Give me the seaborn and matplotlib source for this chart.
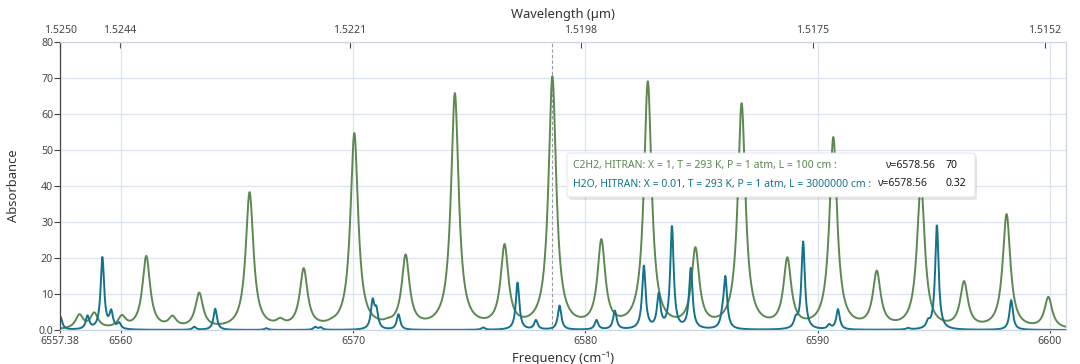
import numpy as np
import pandas as pd
import matplotlib
matplotlib.use("Agg")
import matplotlib.pyplot as plt
from matplotlib.patches import FancyBboxPatch
import seaborn as sns

# line lists: centre (cm-1) and peak absorbance
c2h2_centers = [6558.21, 6558.85, 6560.04, 6561.09, 6562.22, 6563.37, 6565.54, 6566.86,
                6567.87, 6569.09, 6570.05, 6571.50, 6572.26, 6573.62, 6574.38, 6576.52,
                6578.58, 6580.69, 6582.00, 6582.69, 6584.74, 6586.73, 6588.70, 6590.68,
                6592.55, 6594.45, 6596.31, 6598.14, 6599.94]
c2h2_peaks = [4.4, 4.9, 4.2, 20.6, 4.0, 10.4, 38.3, 3.4,
              17.2, 3.4, 54.7, 3.4, 21.0, 5.3, 65.8, 23.9,
              70.5, 25.2, 4.0, 68.9, 23.0, 63.0, 20.2, 53.6,
              16.5, 41.0, 13.6, 32.2, 9.2]

h2o_centers = [6557.40, 6558.56, 6558.99, 6559.20, 6559.58, 6559.92, 6563.16, 6564.06,
               6566.26, 6568.37, 6568.60, 6570.84, 6571.00, 6571.95, 6575.60, 6577.08,
               6577.87, 6578.89, 6580.48, 6581.27, 6582.52, 6583.16, 6583.73, 6584.54,
               6585.90, 6586.03, 6589.06, 6589.38, 6590.50, 6590.88, 6593.90, 6594.76,
               6595.14, 6598.34]
h2o_peaks = [3.6, 4.0, 1.5, 20.0, 5.7, 2.2, 0.9, 5.9,
             0.5, 0.9, 0.8, 8.8, 6.7, 4.4, 0.7, 13.2,
             2.8, 6.8, 2.8, 5.4, 17.9, 10.4, 28.9, 17.3,
             7.0, 15.0, 4.2, 24.6, 1.7, 5.8, 0.6, 3.2,
             29.1, 8.3]

c2h2_hwhm = 0.20
h2o_hwhm = 0.09

freq_ticks = [6557.38, 6560, 6570, 6580, 6590, 6600]
freq_labels = ["6557.38", "6560", "6570", "6580", "6590", "6600"]
wl_ticks = [1.5250, 1.5244, 1.5221, 1.5198, 1.5175, 1.5152]
y_ticks = [0, 10, 20, 30, 40, 50, 60, 70, 80]
y_labels = ["0.0", "10", "20", "30", "40", "50", "60", "70", "80"]

cursor_nu = 6578.56
tip_c2h2 = "C2H2, HITRAN: X = 1, T = 293 K, P = 1 atm, L = 100 cm :"
tip_h2o = "H2O, HITRAN: X = 0.01, T = 293 K, P = 1 atm, L = 3000000 cm :"
tip_vals = ["70", "0.32"]

GREEN = "#5c8851"
TEAL = "#13728c"


def spectrum(nu, centers, peaks, hwhm):
    c = np.array(centers)
    p = np.array(peaks)
    # lorentz amplitudes chosen so that the summed curve hits the read peak heights
    m = hwhm**2 / ((c[:, None] - c[None, :])**2 + hwhm**2)
    amp = np.clip(np.linalg.solve(m, p), 0, None)
    prof = hwhm**2 / ((nu[:, None] - c[None, :])**2 + hwhm**2)
    return prof @ amp


x_lo, x_hi = 6557.375, 6600.7
nu = np.linspace(x_lo, x_hi, 5000)
df = pd.DataFrame({
    "nu": nu,
    "c2h2": spectrum(nu, c2h2_centers, c2h2_peaks, c2h2_hwhm),
    "h2o": spectrum(nu, h2o_centers, h2o_peaks, h2o_hwhm),
})

sns.set_theme(style="white")
plt.rcParams['font.family'] = ['Noto Sans', 'DejaVu Sans']

W, H = 1080, 364
fig = plt.figure(figsize=(W / 100, H / 100), dpi=100)
ax = fig.add_axes([60 / W, 1 - 330 / H, (1066 - 60) / W, (330 - 42) / H])

sns.lineplot(data=df, x="nu", y="c2h2", ax=ax, color=GREEN, linewidth=1.4)
sns.lineplot(data=df, x="nu", y="h2o", ax=ax, color=TEAL, linewidth=1.4)

ax.set_xlim(x_lo, x_hi)
ax.set_ylim(0, 80)

ax.set_yticks(y_ticks)
ax.set_yticklabels(y_labels)
ax.set_xticks(freq_ticks)
ax.set_xticklabels(freq_labels)
ax.grid(True, color="#dbe2f0", linewidth=0.9)
ax.set_axisbelow(True)

for side in ["top", "right", "bottom"]:
    ax.spines[side].set_color("#cdd5e6")
    ax.spines[side].set_linewidth(0.9)
ax.spines["left"].set_color("#444444")
ax.spines["left"].set_linewidth(0.9)

tick_fs = 7.6
ax.tick_params(axis="y", left=True, direction="out", length=4, width=0.8,
               color="#444444", pad=1, labelsize=tick_fs, labelcolor="#444444")
ax.tick_params(axis="x", bottom=True, direction="out", length=2, width=0.8,
               color="#444444", pad=2, labelsize=tick_fs, labelcolor="#444444")

ax.set_ylabel("Absorbance", fontsize=9.3, color="#333333")
ax.yaxis.set_label_coords(-0.040, 0.5)
ax.set_xlabel("Frequency (cm⁻¹)", fontsize=9.3, color="#333333")
ax.xaxis.set_label_coords(0.5, -0.075)

top = ax.secondary_xaxis("top")
top.set_xticks([1e4 / w for w in wl_ticks])
top.set_xticklabels([f"{w:.4f}" for w in wl_ticks])
top.tick_params(direction="in", length=4, width=0.8, color="#444444",
                pad=4, labelsize=tick_fs, labelcolor="#444444")
top.spines["top"].set_visible(False)
top.set_xlabel("Wavelength (µm)", fontsize=9.3, color="#333333", va="center")
top.xaxis.set_label_coords(0.5, 1.097, transform=ax.transAxes)

ax.axvline(cursor_nu, color="#9a9a9a", linewidth=0.8, linestyle=(0, (3, 2)), zorder=1)

# tooltip box
tf = fig.transFigure
bx, by, bw, bh = 567, 153, 408, 44
shadow = FancyBboxPatch(((bx + 2) / W, 1 - (by + bh + 3) / H), bw / W, bh / H,
                        boxstyle="round,pad=0,rounding_size=0.004", transform=tf,
                        facecolor="#000000", alpha=0.10, edgecolor="none", zorder=5)
box = FancyBboxPatch((bx / W, 1 - (by + bh) / H), bw / W, bh / H,
                     boxstyle="round,pad=0,rounding_size=0.004", transform=tf,
                     facecolor="white", edgecolor="#e2e2e2", linewidth=0.6, zorder=6)
fig.patches.extend([shadow, box])

fs = 7.5
fig.text(573 / W, 1 - 166 / H, tip_c2h2, color=GREEN, fontsize=fs, va="center", zorder=7)
fig.text(573 / W, 1 - 184 / H, tip_h2o, color=TEAL, fontsize=fs, va="center", zorder=7)
fig.text(885 / W, 1 - 166 / H, f"ν={cursor_nu:.2f}", color="#222222", fontsize=fs, va="center", zorder=7)
fig.text(877 / W, 1 - 184 / H, f"ν={cursor_nu:.2f}", color="#222222", fontsize=fs, va="center", zorder=7)
fig.text(945 / W, 1 - 166 / H, tip_vals[0], color="#111111", fontsize=fs, fontweight="bold", va="center", zorder=7)
fig.text(945 / W, 1 - 184 / H, tip_vals[1], color="#111111", fontsize=fs, fontweight="bold", va="center", zorder=7)

fig.savefig("out.png", dpi=100)
